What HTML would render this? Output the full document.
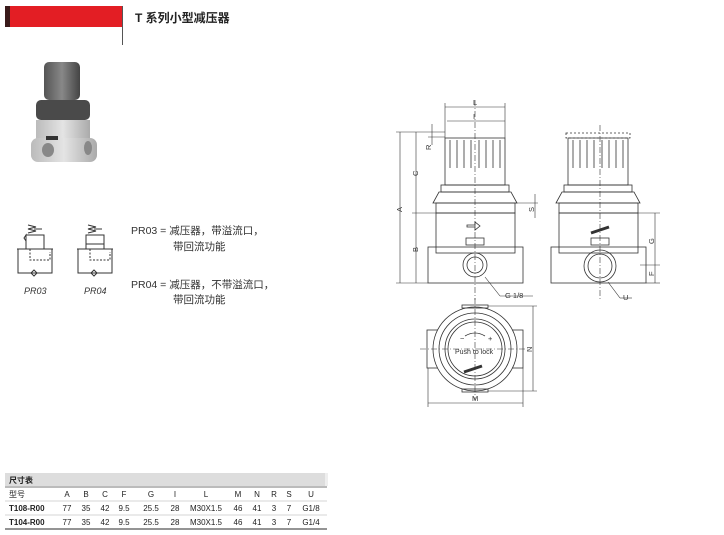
<!DOCTYPE html>
<html><head><meta charset="utf-8"><style>
body{margin:0;background:#fff;width:724px;height:535px;overflow:hidden;font-family:"Liberation Sans","Noto Sans CJK SC",sans-serif}
svg{position:absolute;left:0;top:0}
</style></head><body>
<svg width="724" height="535" viewBox="0 0 724 535" font-family="Liberation Sans, Noto Sans CJK SC, sans-serif">
<rect x="5" y="6" width="117" height="21" fill="#e31e24"/>
<rect x="5" y="6" width="5" height="21" fill="#3a1a1a"/>
<line x1="122.5" y1="6" x2="122.5" y2="45" stroke="#555" stroke-width="1"/>
<text x="135" y="22" font-size="12" font-weight="bold" fill="#222">T 系列小型减压器</text>
<defs>
<linearGradient id="kn" x1="0" x2="1"><stop offset="0" stop-color="#555"/><stop offset=".5" stop-color="#888"/><stop offset="1" stop-color="#444"/></linearGradient>
<linearGradient id="bd" x1="0" x2="1"><stop offset="0" stop-color="#bbb"/><stop offset=".5" stop-color="#e4e4e4"/><stop offset="1" stop-color="#aaa"/></linearGradient>
</defs>
<rect x="44" y="62" width="36" height="38" rx="5" fill="url(#kn)"/>
<rect x="36" y="100" width="54" height="20" rx="5" fill="#4a4a4a"/>
<rect x="36" y="120" width="54" height="22" fill="url(#bd)"/>
<rect x="31" y="138" width="66" height="24" rx="7" fill="url(#bd)"/>
<ellipse cx="48" cy="150" rx="6" ry="7" fill="#888"/>
<ellipse cx="88" cy="148" rx="4" ry="7" fill="#888"/>
<rect x="46" y="136" width="12" height="4" fill="#333"/>
<g stroke="#333" stroke-width="1" fill="none">
<rect x="26" y="235" width="18" height="14"/>
<line x1="17" y1="249" x2="53" y2="249"/>
<polyline points="18,249 18,273 52,273 52,249"/>
<polyline points="30,249 30,260 50,260 50,252" stroke-dasharray="2,1.5"/>
<path d="M28,233 l8,-2 l-8,-2 l8,-2 l-8,-2"/>
<line x1="34" y1="229" x2="42" y2="229"/>
<path d="M24,238 l2,-3 l0,6z"/>
<path d="M28,249 h5 M38,249 h5"/>
<path d="M31,273 l3,-3 l3,3 l-3,3z"/>
<rect x="86" y="235" width="18" height="14"/>
<line x1="77" y1="249" x2="113" y2="249"/>
<polyline points="78,249 78,273 112,273 112,249"/>
<polyline points="90,249 90,260 110,260 110,252" stroke-dasharray="2,1.5"/>
<path d="M88,233 l8,-2 l-8,-2 l8,-2 l-8,-2"/>
<line x1="94" y1="229" x2="102" y2="229"/>
<line x1="86" y1="244" x2="104" y2="244"/>
<path d="M91,273 l3,-3 l3,3 l-3,3z"/>
</g>
<text x="24" y="294" font-size="9" font-style="italic" fill="#333">PR03</text>
<text x="84" y="294" font-size="9" font-style="italic" fill="#333">PR04</text>
<g font-size="10.5" fill="#333">
<text x="131" y="234">PR03 = 减压器，带溢流口，</text>
<text x="173" y="250">带回流功能</text>
<text x="131" y="288">PR04 = 减压器，不带溢流口，</text>
<text x="173" y="303">带回流功能</text>
</g>
<g stroke="#333" stroke-width="0.8" fill="none">
<rect x="445" y="138" width="60" height="47"/>
<path d="M450,140v28 M457,140v28 M464,140v28 M471,140v28 M479,140v28 M486,140v28 M493,140v28 M500,140v28"/>
<rect x="441" y="185" width="68" height="7"/>
<path d="M433,203 l6,-11 h72 l6,11 z"/>
<rect x="436" y="203" width="79" height="10"/>
<rect x="436" y="213" width="79" height="40"/>
<rect x="428" y="247" width="95" height="36"/>
<circle cx="475" cy="265" r="12"/><circle cx="475" cy="265" r="8"/>
<rect x="466" y="238" width="18" height="7"/>
<path d="M467,225 h8 v-3 l5,4 l-5,4 v-3 h-8z"/>
<rect x="568" y="138" width="60" height="47"/>
<path d="M573,140v28 M580,140v28 M587,140v28 M594,140v28 M602,140v28 M609,140v28 M616,140v28 M623,140v28"/>
<rect x="566" y="133" width="64" height="5" stroke-dasharray="2,2"/>
<rect x="564" y="185" width="68" height="7"/>
<path d="M556,203 l6,-11 h72 l6,11 z"/>
<rect x="559" y="203" width="79" height="10"/>
<rect x="559" y="213" width="79" height="40"/>
<rect x="551" y="247" width="95" height="36"/>
<circle cx="600" cy="266" r="16"/><circle cx="600" cy="266" r="12"/>
<rect x="591" y="238" width="18" height="7"/>
<path d="M591,233 l18,-6" stroke-width="3"/>
<rect x="427" y="330" width="96" height="38"/>
<circle cx="475" cy="349" r="42" fill="#fff"/>
<circle cx="475" cy="349" r="36"/>
<circle cx="475" cy="349" r="30"/>
<circle cx="475" cy="349" r="27"/>
<rect x="462" y="305" width="26" height="3"/>
<rect x="462" y="389" width="26" height="3"/>
<path d="M465,336 q10,-6 20,0" />
<path d="M464,372 l18,-6" stroke-width="3"/>
<g stroke-width="0.6">
<line x1="400" y1="132" x2="400" y2="283"/>
<line x1="416" y1="132" x2="416" y2="283"/>
<line x1="396" y1="132" x2="445" y2="132"/>
<line x1="412" y1="213" x2="436" y2="213"/>
<line x1="396" y1="283" x2="428" y2="283"/>
<line x1="445" y1="103" x2="445" y2="138"/><line x1="505" y1="103" x2="505" y2="138"/>
<line x1="445" y1="107" x2="505" y2="107"/>
<line x1="447" y1="121" x2="505" y2="121"/>
<line x1="432" y1="124" x2="432" y2="145"/><line x1="428" y1="137" x2="445" y2="137"/>
<line x1="535" y1="194" x2="535" y2="218"/><line x1="515" y1="203" x2="538" y2="203"/>
<line x1="655" y1="213" x2="655" y2="283"/><line x1="638" y1="213" x2="660" y2="213"/>
<line x1="640" y1="265" x2="660" y2="265"/><line x1="646" y1="283" x2="660" y2="283"/>
<line x1="533" y1="306" x2="533" y2="391"/><line x1="488" y1="306" x2="537" y2="306"/><line x1="488" y1="391" x2="537" y2="391"/>
<line x1="428" y1="403" x2="523" y2="403"/><line x1="428" y1="368" x2="428" y2="407"/><line x1="523" y1="368" x2="523" y2="407"/>
<line x1="485" y1="277" x2="500" y2="296"/><line x1="500" y1="296" x2="533" y2="296"/>
<line x1="608" y1="282" x2="620" y2="298"/><line x1="620" y1="298" x2="632" y2="298"/>
<line x1="475" y1="100" x2="475" y2="300" stroke-dasharray="6,2,1,2"/>
<line x1="600" y1="125" x2="600" y2="300" stroke-dasharray="6,2,1,2"/>
<line x1="475" y1="298" x2="475" y2="400" stroke-dasharray="6,2,1,2"/>
<line x1="420" y1="349" x2="530" y2="349" stroke-dasharray="6,2,1,2"/>
</g>
</g>
<g font-size="7.5" fill="#333">
<text x="473" y="105">L</text><text x="473" y="119">I</text>
<text transform="translate(402,212) rotate(-90)">A</text>
<text transform="translate(418,176) rotate(-90)">C</text>
<text transform="translate(418,252) rotate(-90)">B</text>
<text transform="translate(431,150) rotate(-90)">R</text>
<text transform="translate(534,212) rotate(-90)">S</text>
<text transform="translate(654,244) rotate(-90)">G</text>
<text transform="translate(654,276) rotate(-90)">F</text>
<text transform="translate(532,352) rotate(-90)">N</text>
<text x="472" y="401">M</text>
<text x="505" y="298">G 1/8</text>
<text x="623" y="300">U</text>
<text x="455" y="354" font-size="7">Push to lock</text>
<text x="460" y="341">−</text><text x="488" y="341">+</text>
</g>
<rect x="5" y="473" width="320" height="13" fill="#ddd"/>
<rect x="325" y="473" width="3" height="13" fill="#eee"/>
<line x1="5" y1="487" x2="327" y2="487" stroke="#777" stroke-width="1"/>
<line x1="5" y1="501" x2="327" y2="501" stroke="#aaa" stroke-width="0.6"/>
<line x1="5" y1="515" x2="327" y2="515" stroke="#aaa" stroke-width="0.6"/>
<line x1="5" y1="529" x2="327" y2="529" stroke="#555" stroke-width="1.2"/>
<g font-size="8" fill="#222">
<text x="9" y="483" font-weight="bold">尺寸表</text>
<text x="9" y="497">型号</text>
<text x="9" y="511" font-weight="bold">T108-R00</text>
<text x="9" y="525" font-weight="bold">T104-R00</text>
<g text-anchor="middle">
<text x="67" y="497">A</text><text x="86" y="497">B</text><text x="105" y="497">C</text><text x="124" y="497">F</text><text x="151" y="497">G</text><text x="175" y="497">I</text><text x="206" y="497">L</text><text x="238" y="497">M</text><text x="257" y="497">N</text><text x="274" y="497">R</text><text x="289" y="497">S</text><text x="311" y="497">U</text>
<text x="67" y="511">77</text><text x="86" y="511">35</text><text x="105" y="511">42</text><text x="124" y="511">9.5</text><text x="151" y="511">25.5</text><text x="175" y="511">28</text><text x="206" y="511">M30X1.5</text><text x="238" y="511">46</text><text x="257" y="511">41</text><text x="274" y="511">3</text><text x="289" y="511">7</text><text x="311" y="511">G1/8</text>
<text x="67" y="525">77</text><text x="86" y="525">35</text><text x="105" y="525">42</text><text x="124" y="525">9.5</text><text x="151" y="525">25.5</text><text x="175" y="525">28</text><text x="206" y="525">M30X1.5</text><text x="238" y="525">46</text><text x="257" y="525">41</text><text x="274" y="525">3</text><text x="289" y="525">7</text><text x="311" y="525">G1/4</text>
</g></g>
</svg>
</body></html>
